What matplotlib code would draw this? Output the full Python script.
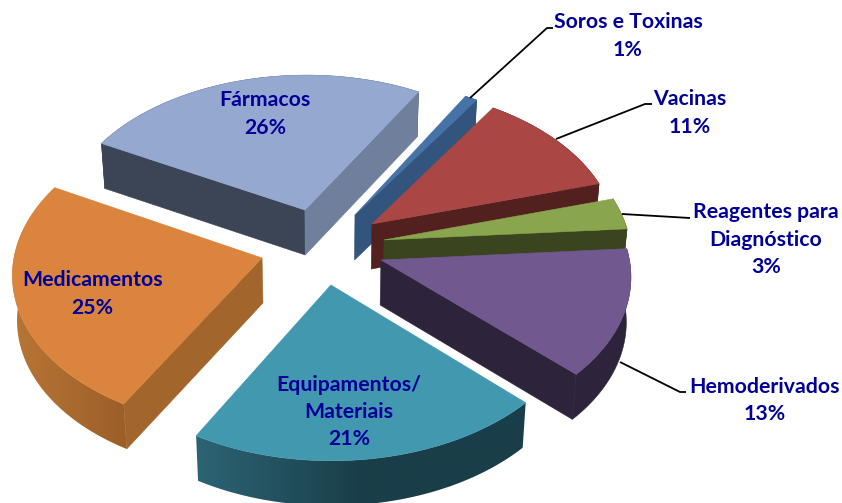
import numpy as np
import matplotlib
matplotlib.use("Agg")
import matplotlib.pyplot as plt
from matplotlib.patches import Polygon
from matplotlib.colors import to_rgb, LinearSegmentedColormap

# ---- data (clockwise from the top-right edge of the pie) ----
categories = ["Soros e Toxinas", "Vacinas", "Reagentes para\nDiagnóstico", "Hemoderivados",
              "Equipamentos/\nMateriais", "Medicamentos", "Fármacos"]
shares = [0.9, 11.3, 3.3, 13.3, 21.1, 24.6, 25.5]
percent_labels = ["1%", "11%", "3%", "13%", "21%", "25%", "26%"]

# ---- styles ----
top_colors = ["#4572A7", "#AA4643", "#89A54E", "#71588F", "#4198AF", "#DB843D", "#95A9D0"]
start_wall = ["#33547D", "#52201E", "#3A441F", "#2D233A", "#1A3E49", "#A2652C", "#3C4556"]
stop_wall = ["#33547D", "#52201E", "#3A441F", "#2D233A", "#1A3E49", "#A2652C", "#6F7F9C"]
# colours of the outer wall, from its left end to its right end
arc_wall = [("#33547D",), ("#52201E",), ("#3A441F",), ("#2D233A",),
            ("#2C6474", "#1A3E49", "#1A3E49"), ("#B87535", "#9C5F29"), ("#3C4556",)]
TEXT_COLOR = "#000099"

# ---- layout: explosion of every slice in the pie's plane, draw order, projection ----
explode_uv = [(.122, .197), (.19, .137), (.237, .033), (.222, -.096),
              (.023, -.252), (-.25, -.083), (-.082, .2305)]
draw_order = [6, 0, 1, 2, 3, 5, 4]
START_DEG, RADIUS = 60.0, 0.985
X0, Y0, RX, RY, PERSP = 325.0, 245.0, 250.0, 155.0, 0.09
DEPTH, X_SHRINK = 45.0, 0.015

label_pos = [(628, 36), (690, 113), (766, 239.5), (764.5, 400.5),
             (349, 412), (92.5, 294), (265, 114)]
leaders = [[(470, 98), (547, 28), (553, 28)],
           [(556, 139), (645, 104), (652, 104)],
           [(622, 214), (690, 218)],
           [(620, 362), (680, 392), (686, 392)]]


def project(u, v, lower=False):
    w = 1 + PERSP * v
    x = X0 + RX * u / w
    y = Y0 - RY * v / w
    if lower:
        x = x + (X0 - x) * X_SHRINK
        y = y + DEPTH
    return x, y


fig = plt.figure(figsize=(8.42, 5.03), dpi=100, facecolor="white")
ax = fig.add_axes([0, 0, 1, 1])
ax.set_xlim(0, 842)
ax.set_ylim(503, 0)
ax.axis("off")

edges = START_DEG - 360 * np.cumsum([0] + shares) / np.sum(shares)


def quad(a, b, color, z):
    ax.add_patch(Polygon([project(*a), project(*b), project(*b, lower=True), project(*a, lower=True)],
                         closed=True, fc=color, ec=color, lw=0.4, zorder=z))


def gradient_wall(u, v, colors, z):
    top = np.c_[project(u, v)]
    low = np.c_[project(u, v, lower=True)]
    outline = np.r_[top, low[::-1]]
    if len(colors) == 1:
        ax.add_patch(Polygon(outline, closed=True, fc=colors[0], ec=colors[0], lw=0.4, zorder=z))
        return
    x0, x1 = outline[:, 0].min(), outline[:, 0].max()
    y0, y1 = outline[:, 1].min(), outline[:, 1].max()
    cmap = LinearSegmentedColormap.from_list("wall", [to_rgb(c) for c in colors])
    im = ax.imshow(np.linspace(0, 1, 256)[None, :], cmap=cmap, extent=(x0, x1, y1, y0),
                   aspect="auto", interpolation="bilinear", zorder=z)
    im.set_clip_path(Polygon(outline, closed=True, transform=ax.transData))


for rank, i in enumerate(draw_order):
    z = 2 + rank
    t0, t1 = np.radians(edges[i]), np.radians(edges[i + 1])
    th = np.linspace(t0, t1, 120)
    cu, cv = explode_uv[i]
    u = cu + RADIUS * np.cos(th)
    v = cv + RADIUS * np.sin(th)
    apex = (cu, cv)
    gradient_wall(u, v, arc_wall[i], z)
    # a flat cut face shows only when it turns towards the viewer
    if np.cos(t0) < 0:
        quad(apex, (u[0], v[0]), start_wall[i], z + 0.1)
    if np.cos(t1) > 0:
        quad(apex, (u[-1], v[-1]), stop_wall[i], z + 0.1)
    xs, ys = project(np.r_[cu, u], np.r_[cv, v])
    ax.add_patch(Polygon(np.c_[xs, ys], closed=True, fc=top_colors[i], ec=top_colors[i],
                         lw=0.4, zorder=z + 0.5))

for pts in leaders:
    px, py = zip(*pts)
    ax.plot(px, py, color="black", lw=1.3, zorder=20, solid_capstyle="butt")

for name, pct, (x, y) in zip(categories, percent_labels, label_pos):
    ax.text(x, y, f"{name}\n{pct}", ha="center", va="center", ma="center", color=TEXT_COLOR,
            family=["Lato", "DejaVu Sans"], weight="bold", fontsize=15.3, linespacing=1.45, zorder=30)

ax.set_xlim(0, 842)
ax.set_ylim(503, 0)
fig.savefig("out.png", dpi=100, facecolor="white")
